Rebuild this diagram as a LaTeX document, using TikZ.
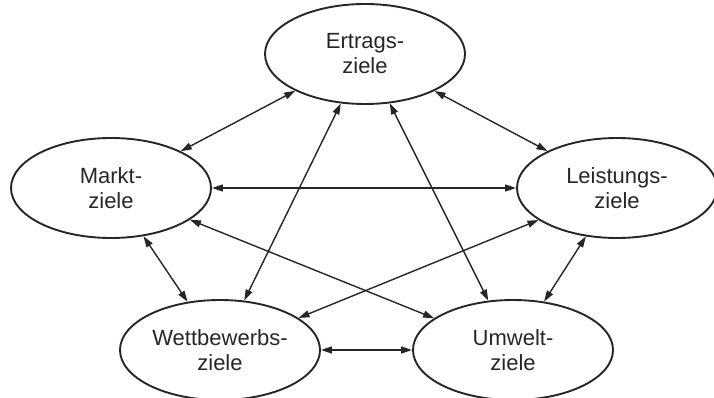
\documentclass[tikz,border=0pt]{standalone}
\usepackage{fontspec}
\setmainfont{Liberation Sans}
\usetikzlibrary{shapes.geometric,arrows.meta}
\begin{document}
\begin{tikzpicture}[x=1pt,y=-1pt,
  goal/.style={ellipse,draw=black!85,line width=1.9pt,minimum width=200pt,minimum height=100pt,inner sep=0pt,
    align=center,text=black!85,font=\fontsize{22}{25}\selectfont},
  link/.style={line width=1.4pt,draw=black!85,{Triangle[length=11pt,width=7pt]}-{Triangle[length=11pt,width=7pt]}}]
\useasboundingbox (0,0) rectangle (714,398);
\node[goal] (E) at (365,54) {Ertrags-\\ziele};
\node[goal] (M) at (111,188) {Markt-\\ziele};
\node[goal] (L) at (617,188) {Leistungs-\\ziele};
\node[goal] (W) at (220,350) {Wettbewerbs-\\ziele};
\node[goal] (U) at (513,350) {Umwelt-\\ziele};
\draw[link] (M) -- (E);
\draw[link] (E) -- (L);
\draw[link] (M) -- (L);
\draw[link] (E) -- (W);
\draw[link] (E) -- (U);
\draw[link] (M) -- (U);
\draw[link] (L) -- (W);
\draw[link] (M) -- (W);
\draw[link] (L) -- (U);
\draw[link] (W) -- (U);
\end{tikzpicture}
\end{document}
